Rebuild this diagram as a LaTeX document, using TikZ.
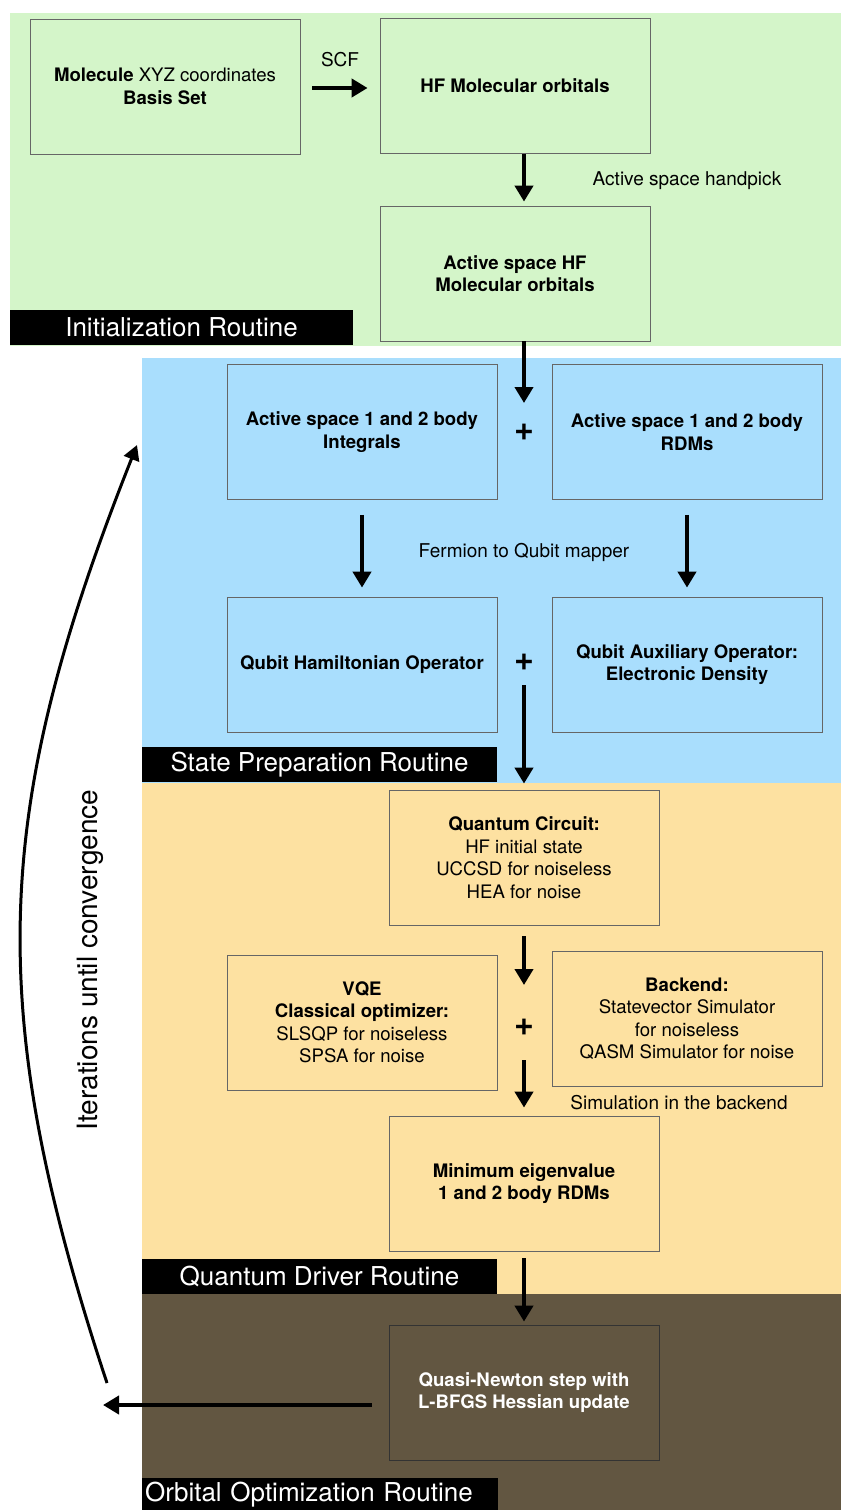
\documentclass[tikz,border=0pt]{standalone}
\usepackage{fontspec}
\setmainfont{TeX Gyre Heros}
\usetikzlibrary{arrows.meta,calc}

\definecolor{initgreen}{HTML}{D4F5C9}
\definecolor{prepblue}{HTML}{A9DEFD}
\definecolor{drivyellow}{HTML}{FDE1A1}
\definecolor{optbrown}{HTML}{625641}

\begin{document}
\begin{tikzpicture}[x=1pt,y=-1pt,
    stagebox/.style={rectangle, draw=black!60, line width=0.8pt, minimum width=270pt, minimum height=135pt, align=center, font=\fontsize{18.6}{22.5}\selectfont},
    routine/.style={rectangle, fill=black, text=white, minimum height=35pt, inner sep=0pt, font=\fontsize{26}{28}\selectfont},
    flow/.style={line width=4pt, -{Triangle[width=18pt,length=16pt]}},
    note/.style={font=\fontsize{19}{22}\selectfont},
    plus/.style={font=\fontsize{34}{34}\selectfont\bfseries}]
    \useasboundingbox (0,0) rectangle (841,1510);

    % routine backgrounds
    \fill[initgreen] (10,13) rectangle (841,346);
    \fill[prepblue] (142,358) rectangle (841,783);
    \fill[drivyellow] (142,783) rectangle (841,1294);
    \fill[optbrown] (142,1294) rectangle (841,1510);

    \node[routine, minimum width=343pt] (initlbl) at (181.5,327.5) {Initialization Routine};
    \node[routine, minimum width=355pt] (preplbl) at (319.5,764.5) {State Preparation Routine};
    \node[routine, minimum width=355pt] (drivlbl) at (319.5,1276.5) {Quantum Driver Routine};
    \node[routine, anchor=north west, minimum height=32pt, text width=350pt, inner xsep=3pt, align=left] (optlbl) at (142,1478) {Orbital Optimization Routine};

    % initialization
    \node[stagebox] (mol) at (165,86.5) {\textbf{Molecule} XYZ coordinates\\\textbf{Basis Set}};
    \node[stagebox, font=\fontsize{18.6}{22.5}\selectfont\bfseries] (hfmo) at (515,86) {HF Molecular orbitals};
    \node[stagebox, font=\fontsize{18.6}{22.5}\selectfont\bfseries] (ashf) at (515,273.5) {Active space HF\\Molecular orbitals};

    % state preparation
    \node[stagebox, font=\fontsize{18.6}{22.5}\selectfont\bfseries] (integ) at (362,432) {Active space 1 and 2 body\\Integrals};
    \node[stagebox, font=\fontsize{18.6}{22.5}\selectfont\bfseries] (rdm) at (687,432) {Active space 1 and 2 body\\RDMs};
    \node[stagebox, font=\fontsize{18.6}{22.5}\selectfont\bfseries] (ham) at (362,664.5) {Qubit Hamiltonian Operator};
    \node[stagebox, font=\fontsize{18.6}{22.5}\selectfont\bfseries] (aux) at (687,664.5) {Qubit Auxiliary Operator:\\Electronic Density};
    \node[plus] (plusA) at (524,432) {+};
    \node[plus] (plusB) at (524,662) {+};

    % quantum driver
    \node[stagebox] (qc) at (524,857.5) {\textbf{Quantum Circuit:}\\HF initial state\\UCCSD for noiseless\\HEA for noise};
    \node[stagebox] (vqe) at (362,1022.5) {\textbf{VQE}\\\textbf{Classical optimizer:}\\SLSQP for noiseless\\SPSA for noise};
    \node[stagebox] (backend) at (687,1018.5) {\textbf{Backend:}\\Statevector Simulator\\for noiseless\\QASM Simulator for noise};
    \node[plus] (plusC) at (524,1027) {+};
    \node[stagebox, font=\fontsize{18.6}{22.5}\selectfont\bfseries] (mineig) at (524,1183.5) {Minimum eigenvalue\\1 and 2 body RDMs};

    % orbital optimization
    \node[stagebox, draw=black!80, text=white, font=\fontsize{18.6}{22.5}\selectfont\bfseries] (qn) at (524,1392.5) {Quasi-Newton step with\\L-BFGS Hessian update};

    % notes
    \node[note] (scf) at (340,60) {SCF};
    \node[note] (handpick) at (687,181) {Active space handpick};
    \node[note] (mapper) at (524,552) {Fermion to Qubit mapper};
    \node[note] (simback) at (679,1103) {Simulation in the backend};
    \node[rotate=90, font=\fontsize{28}{30}\selectfont] (iterlbl) at (90,960) {Iterations until convergence};

    % free ends
    \coordinate (tipA) at (524,403);
    \coordinate (startB) at (524,685);
    \coordinate (tipC) at (524,985);
    \coordinate (startC) at (524,1060);
    \coordinate (loopEnd) at (103,1405);
    \coordinate (loopStart) at (107,1383);
    \coordinate (loopTip) at (137,445);

    % arrows
    \draw[flow, shorten <=12pt, shorten >=12pt] (mol.east |- 0,88) -- (hfmo.west |- 0,88);
    \draw[flow, shorten >=4pt] (hfmo.south -| qc.north) -- (ashf.north -| qc.north);
    \draw[flow] (ashf.south -| qc.north) -- (tipA);
    \draw[flow, shorten <=15pt, shorten >=9pt] (integ) -- (ham);
    \draw[flow, shorten <=15pt, shorten >=9pt] (rdm) -- (aux);
    \draw[flow, shorten >=6pt] (startB) -- (qc.north);
    \draw[flow, shorten <=11pt] (qc.south) -- (tipC);
    \draw[flow, shorten >=8pt] (startC) -- (mineig.north);
    \draw[flow, shorten <=7pt, shorten >=3pt] (mineig.south) -- (qn.north);
    \draw[flow, shorten <=17pt] (qn.west |- loopEnd) -- (loopEnd);
    \draw[line width=3pt, -{Triangle[width=16pt,length=15pt]}] (loopStart) .. controls (-17,1008) and (-8,810) .. (loopTip);
\end{tikzpicture}
\end{document}
